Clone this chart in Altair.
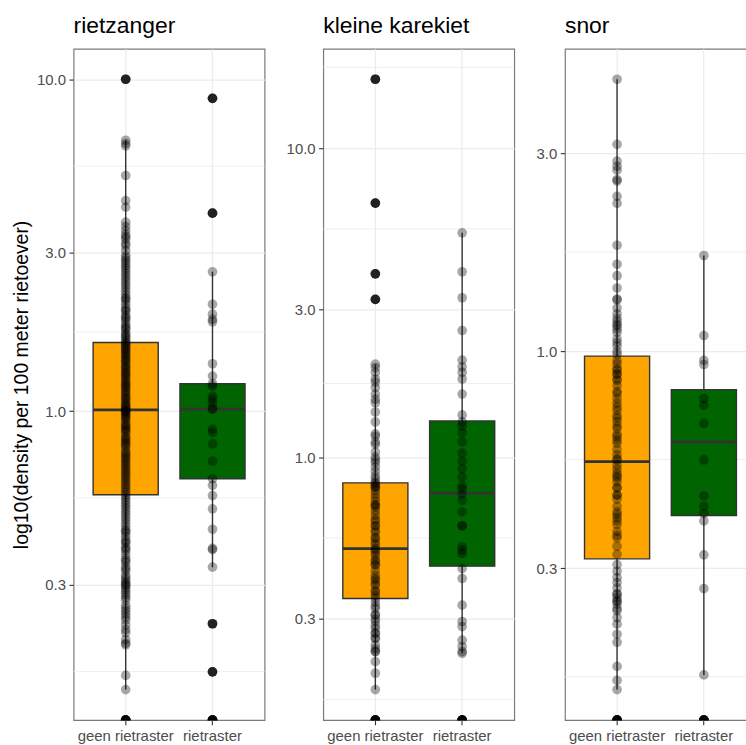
import altair as alt
import numpy as np
import pandas as pd

FONT = "Liberation Sans"
SPECIES = ["rietzanger", "kleine karekiet", "snor"]
GROUPS = ["geen rietraster", "rietraster"]
COLORS = ["#FFA500", "#006400"]
Y_TITLE = "log10(density per 100 meter rietoever)"
Y_BREAKS = [0.3, 1.0, 3.0, 10.0]

# ---- observed densities (non-zero), per species and group ----
rietzanger_geen = [10.0, 6.55, 6.4, 6.3, 5.13, 4.31, 4.12, 3.71, 3.6, 3.5, 3.4, 3.3, 3.15, 3.05,
                   2.95, 2.9, 2.8, 2.75, 2.7, 2.6, 2.5, 2.45, 2.4, 2.3, 2.25, 2.2, 2.15, 2.1, 2.05,
                   2.0, 1.95, 1.9, 1.87, 1.83, 1.8, 1.76, 1.72, 1.7, 1.66, 1.63, 1.6, 1.58, 1.55,
                   1.52, 1.5, 1.48, 1.45, 1.42, 1.4, 1.38, 1.35, 1.33, 1.3, 1.28, 1.25, 1.22, 1.2,
                   1.18, 1.15, 1.12, 1.1, 1.08, 1.05, 1.03, 1.01, 1.0, 1.0, 0.98, 0.96, 0.94, 0.92,
                   0.9, 0.88, 0.86, 0.84, 0.82, 0.8, 0.78, 0.76, 0.74, 0.72, 0.7, 0.68, 0.66, 0.65,
                   0.63, 0.61, 0.6, 0.58, 0.57, 0.56, 0.54, 0.53, 0.52, 0.5, 0.49, 0.48, 0.47, 0.45,
                   0.44, 0.43, 0.42, 0.41, 0.4, 0.39, 0.38, 0.37, 0.36, 0.35, 0.34, 0.33, 0.32,
                   0.31, 0.3, 0.3, 0.29, 0.28, 0.27, 0.26, 0.25, 0.245, 0.24, 0.227, 0.215, 0.205,
                   0.198, 0.16, 0.145,
                   # second pass over the densest part of the column
                   3.35, 3.2, 2.85, 2.65, 2.55, 2.35, 2.18, 2.02, 1.92, 1.78, 1.68, 1.61, 1.57,
                   1.53, 1.47, 1.43, 1.36, 1.31, 1.27, 1.23, 1.19, 1.16, 1.13, 1.09, 1.06, 1.04,
                   1.02, 0.99, 0.97, 0.95, 0.91, 0.89, 0.87, 0.83, 0.81, 0.79, 0.75, 0.73, 0.71,
                   0.69, 0.67, 0.64, 0.62, 0.59, 0.55, 0.51, 0.46, 0.435, 0.405, 0.385, 0.355,
                   0.335, 0.315, 0.305, 0.295, 0.285, 0.275, 0.255, 0.235, 0.22, 0.2]
rietzanger_riet = [8.76, 3.95, 2.63, 2.10, 1.96, 1.89, 1.86, 1.39, 1.276, 1.21, 1.19, 1.11, 1.086,
                   1.057, 1.019, 1.014, 0.883, 0.863, 0.797, 0.707, 0.626, 0.598, 0.557, 0.508,
                   0.441, 0.386, 0.383, 0.339, 0.229, 0.164]
kleine_geen = [16.7, 6.64, 3.92, 3.24, 2.0, 1.95, 1.88, 1.79, 1.75, 1.68, 1.6, 1.54, 1.4, 1.19,
               1.17, 1.12, 1.04, 1.0, 0.96, 0.93, 0.87, 0.83, 0.82, 0.8, 0.8, 0.74, 0.72, 0.7,
               0.7, 0.67, 0.63, 0.62, 0.6, 0.6, 0.57, 0.545, 0.53, 0.506, 0.5, 0.48, 0.465,
               0.447, 0.45, 0.415, 0.405, 0.4, 0.385, 0.367, 0.358, 0.35, 0.34, 0.324, 0.308,
               0.3, 0.294, 0.279, 0.269, 0.27, 0.259, 0.247, 0.235, 0.235, 0.218, 0.2, 0.177,
               1.5, 1.3, 1.1, 0.98, 0.9, 0.85, 0.81, 0.78, 0.76, 0.69, 0.65, 0.58, 0.55, 0.52,
               0.49, 0.46, 0.43, 0.39, 0.37, 0.33, 0.31, 0.285, 0.26, 0.24]
kleine_riet = [5.32, 3.98, 3.28, 2.57, 2.06, 1.96, 1.88, 1.79, 1.6, 1.37, 1.30, 1.26, 1.2, 1.12,
               1.03, 0.97, 0.917, 0.862, 0.808, 0.79, 0.76, 0.725, 0.665, 0.6, 0.6, 0.513, 0.5,
               0.488, 0.436, 0.405, 0.332, 0.294, 0.283, 0.256, 0.244, 0.235, 0.232]
snor_geen = [4.52, 3.15, 2.87, 2.79, 2.73, 2.59, 2.57, 2.36, 2.27, 1.80, 1.62, 1.52, 1.42, 1.335,
             1.33, 1.27, 1.23, 1.18, 1.16, 1.13, 1.11, 1.07, 1.03, 1.0, 0.982, 0.932, 0.907,
             0.9, 0.882, 0.858, 0.85, 0.827, 0.79, 0.769, 0.734, 0.70, 0.69, 0.676, 0.651,
             0.622, 0.611, 0.6, 0.563, 0.55, 0.547, 0.532, 0.508, 0.5, 0.495, 0.485, 0.468,
             0.45, 0.45, 0.423, 0.404, 0.397, 0.382, 0.368, 0.355, 0.339, 0.324, 0.306, 0.295,
             0.285, 0.277, 0.269, 0.255, 0.25, 0.25, 0.246, 0.237, 0.228, 0.22, 0.208, 0.199,
             0.174, 0.161, 0.153,
             1.2, 1.15, 1.05, 0.95, 0.88, 0.8, 0.75, 0.72, 0.66, 0.63, 0.58, 0.52, 0.47,
             0.44, 0.41, 0.39, 0.36, 0.26, 0.26, 0.24]
snor_riet = [1.70, 1.09, 0.95, 0.929, 0.769, 0.741, 0.67, 0.547, 0.448, 0.423, 0.407, 0.39,
             0.323, 0.268, 0.166]

# number of zero densities per group (drawn at the panel floor, log10(0) = -Inf)
rietzanger_zeros = [10, 10]
kleine_zeros = [10, 10]
snor_zeros = [10, 10]

# box statistics per group: [q1, median, q3, whisker low, whisker high]
rietzanger_box = [[0.56, 1.01, 1.61, 0.145, 6.55], [0.626, 1.014, 1.21, 0.339, 2.63]]
kleine_box = [[0.349, 0.506, 0.826, 0.177, 2.0], [0.444, 0.765, 1.31, 0.232, 5.32]]
snor_box = [[0.316, 0.542, 0.973, 0.153, 4.52], [0.402, 0.605, 0.808, 0.166, 1.70]]

PANELS = [
    ("rietzanger", [rietzanger_geen, rietzanger_riet], rietzanger_zeros, rietzanger_box),
    ("kleine karekiet", [kleine_geen, kleine_riet], kleine_zeros, kleine_box),
    ("snor", [snor_geen, snor_riet], snor_zeros, snor_box),
]

PANEL_W = 192
PANEL_H = 675


def make_panel(name, vals, zeros, stats, first):
    pts = []
    for g, vs, nz in zip(GROUPS, vals, zeros):
        pts += [{"group": g, "v": v} for v in vs]
        pts += [{"group": g, "v": 0.0} for _ in range(nz)]
    pts_df = pd.DataFrame(pts)
    box_df = pd.DataFrame([
        {"group": g, "q1": s[0], "med": s[1], "q3": s[2], "lo": s[3], "hi": s[4]}
        for g, s in zip(GROUPS, stats)
    ])
    out_df = pd.DataFrame(
        [{"group": g, "v": v} for g, vs, s in zip(GROUPS, vals, stats)
         for v in vs if v > s[4] or v < s[3]],
        columns=["group", "v"],
    )
    pos = [v for vs in vals for v in vs if v > 0]
    lmin, lmax = np.log10(min(pos)), np.log10(max(pos))
    ex = 0.05 * (lmax - lmin)
    dom = [float(10 ** (lmin - ex)), float(10 ** (lmax + ex))]
    ticks = [b for b in Y_BREAKS if dom[0] <= b <= dom[1]]
    lb = np.log10(ticks)
    bd = lb[1] - lb[0]
    ext = np.concatenate([[lb[0] - bd], lb, [lb[-1] + bd]])
    minor = [float(10 ** m) for m in (ext[:-1] + ext[1:]) / 2]
    minor = [m for m in minor if dom[0] <= m <= dom[1]]
    minor_df = pd.DataFrame({"m": minor})

    yscale = alt.Scale(type="log", domain=dom, clamp=True, nice=False, zero=False)
    yaxis = alt.Axis(values=ticks, format=".1f", grid=True,
                     title=Y_TITLE if first else None, titlePadding=5)
    xscale = alt.Scale(type="band", domain=GROUPS, paddingInner=0.25, paddingOuter=0.225)
    xaxis = alt.Axis(labelAngle=0, bandPosition=0.5, grid=True, title=None)

    def Y(field):
        return alt.Y(f"{field}:Q", scale=yscale, axis=yaxis)

    X = alt.X("group:N", scale=xscale, axis=xaxis)

    minor_rule = alt.Chart(minor_df).mark_rule(color="#ebebeb", strokeWidth=0.8).encode(y=Y("m"))
    whisker = alt.Chart(box_df).mark_rule(color="#333333", strokeWidth=1.4).encode(
        x=X, y=Y("lo"), y2="hi")
    box = alt.Chart(box_df).mark_bar(stroke="#333333", strokeWidth=1.4).encode(
        x=X, y=Y("q1"), y2="q3",
        color=alt.Color("group:N", scale=alt.Scale(domain=GROUPS, range=COLORS), legend=None))
    median = alt.Chart(box_df).mark_bar(stroke="#333333", strokeWidth=2.8, fillOpacity=0).encode(
        x=X, y=Y("med"), y2="med")
    outliers = alt.Chart(out_df).mark_circle(size=95, color="#333333", opacity=1).encode(
        x=X, y=Y("v"))
    points = alt.Chart(pts_df).transform_calculate(
        yv="datum.v > 0 ? datum.v : 1e-6"
    ).mark_circle(size=95, color="black", opacity=0.34, clip=True).encode(x=X, y=Y("yv"))

    return alt.layer(minor_rule, whisker, box, median, outliers, points).properties(
        width=PANEL_W, height=PANEL_H,
        title=alt.TitleParams(text=name, anchor="start", frame="group", fontSize=23, font=FONT,
                              fontWeight="normal", color="black", baseline="alphabetic", offset=-7),
    )


panels = [make_panel(n, v, z, s, i == 0) for i, (n, v, z, s) in enumerate(PANELS)]

chart = alt.hconcat(*panels, spacing=20).properties(
    padding={"left": 11, "top": 12, "right": -11, "bottom": 0}
).configure_view(
    stroke="#7a7a7a", strokeWidth=1.2
).configure_axis(
    labelFont=FONT, labelFontSize=15, labelColor="#4d4d4d",
    tickColor="#333333", tickSize=4.7, tickWidth=1.1, labelPadding=3.5,
    domain=False, gridColor="#ebebeb", gridWidth=1.2,
    titleFont=FONT, titleFontSize=19.5, titleColor="black", titleFontWeight="normal",
)

chart.save("out.html", embed_options={"renderer": "svg", "actions": False})
